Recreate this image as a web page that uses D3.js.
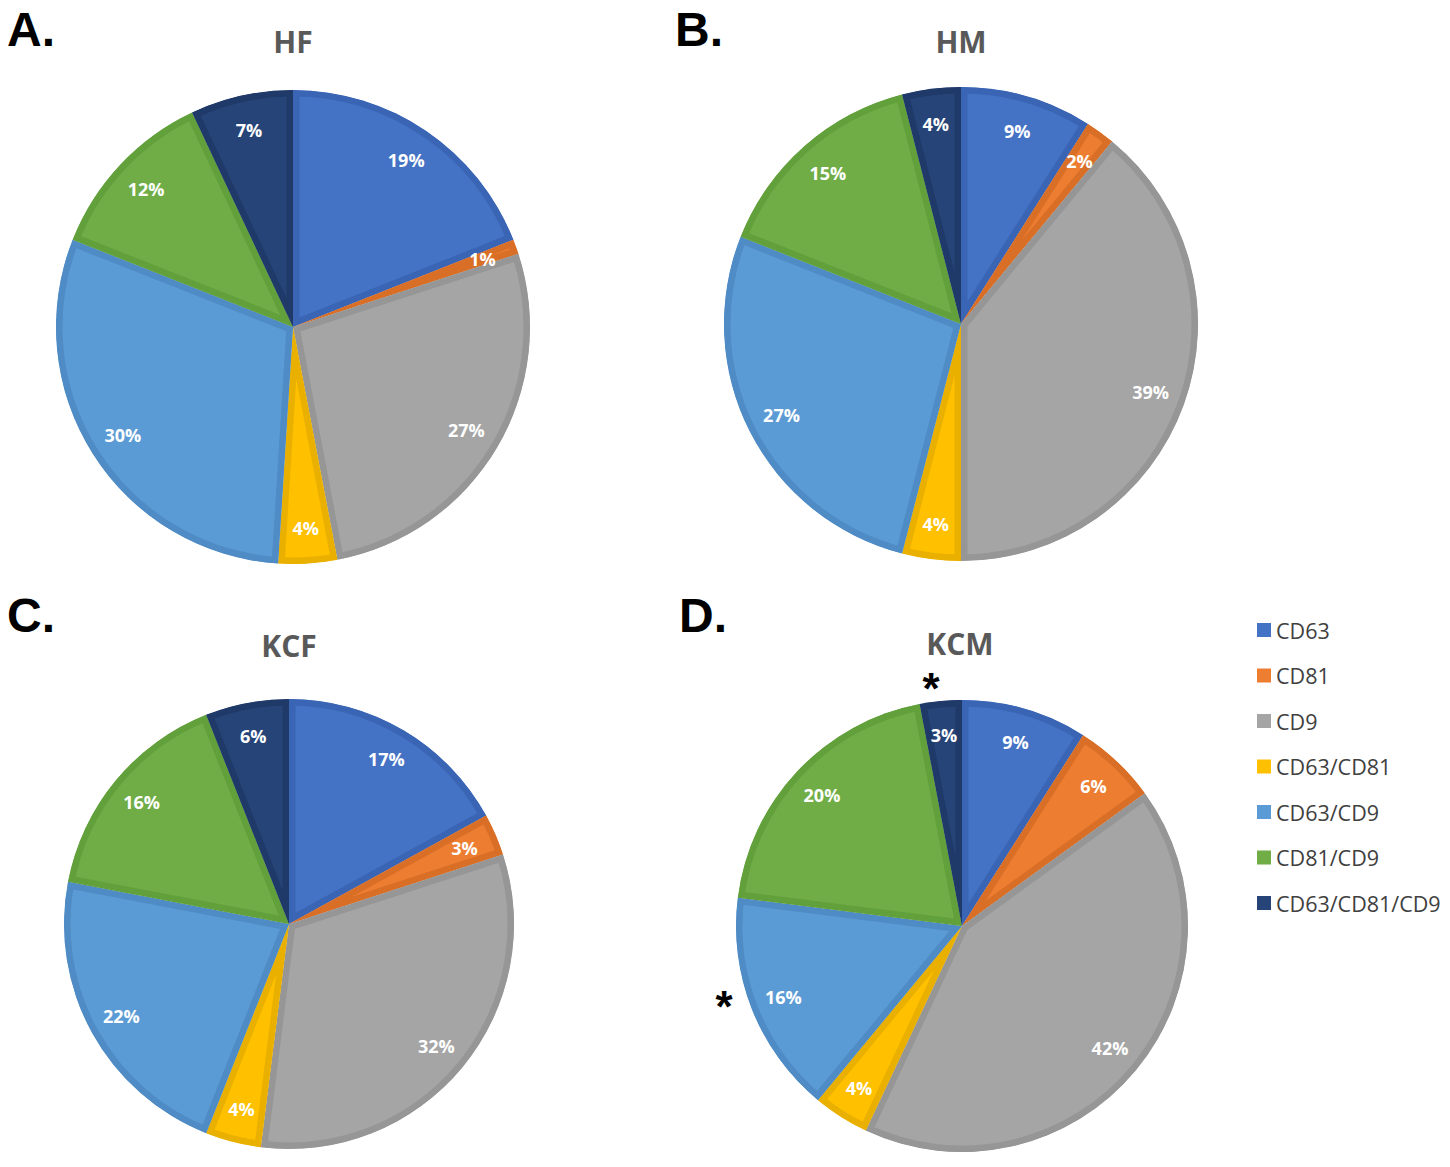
<!DOCTYPE html>
<html><head><meta charset="utf-8">
<script src="https://cdn.jsdelivr.net/npm/d3@7"></script>
<style>body{margin:0;background:#fff}svg{display:block}</style>
</head><body>
<svg id="c" width="1450" height="1167"></svg>
<script>
const categories = ["CD63","CD81","CD9","CD63/CD81","CD63/CD9","CD81/CD9","CD63/CD81/CD9"];
const hfValues  = [19,1,27,4,30,12,7];
const hmValues  = [9,2,39,4,27,15,4];
const kcfValues = [17,3,32,4,22,16,6];
const kcmValues = [9,6,42,4,16,20,3];
const panelTitles = ["HF","HM","KCF","KCM"];
const panelLetters = ["A.","B.","C.","D."];

const fills   = ["#4472C4","#ED7D31","#A5A5A5","#FFC000","#5B9BD5","#70AD47","#264478"];
const borders = ["#3A65B4","#D96F27","#969696","#EAB000","#4F8BC4","#62A03C","#1F3A69"];

const panels = [
  {values: hfValues,  cx: 293, cy: 327, r: 237, tx: 293, ty: 53,  lx: 7,   ly: 46},
  {values: hmValues,  cx: 961, cy: 324, r: 237, tx: 961, ty: 53,  lx: 675, ly: 46},
  {values: kcfValues, cx: 289, cy: 924, r: 225, tx: 289, ty: 657, lx: 7,   ly: 632},
  {values: kcmValues, cx: 962, cy: 926, r: 226, tx: 960, ty: 655, lx: 679, ly: 632}
];

const svg = d3.select("#c");
const defs = svg.append("defs");
const pie = d3.pie().sort(null).value(d => d);
const color = d3.scaleOrdinal().domain(categories).range(fills);
const border = d3.scaleOrdinal().domain(categories).range(borders);

panels.forEach((p, pi) => {
  const g = svg.append("g").attr("transform", `translate(${p.cx},${p.cy})`);
  const arc = d3.arc().innerRadius(0).outerRadius(p.r);
  const arcs = pie(p.values);
  arcs.forEach((a, i) => {
    defs.append("clipPath").attr("id", `clip${pi}_${i}`)
      .append("path").attr("d", arc(a));
  });
  g.selectAll("path").data(arcs).join("path")
    .attr("d", arc)
    .attr("fill", (d, i) => color(categories[i]))
    .attr("stroke", (d, i) => border(categories[i]))
    .attr("stroke-width", 13)
    .attr("stroke-linejoin", "miter")
    .attr("clip-path", (d, i) => `url(#clip${pi}_${i})`);
  // labels
  const lr = p.r * 0.85;
  g.selectAll("text").data(arcs).join("text")
    .attr("x", d => lr * Math.sin((d.startAngle + d.endAngle) / 2))
    .attr("y", d => -lr * Math.cos((d.startAngle + d.endAngle) / 2))
    .attr("text-anchor", "middle").attr("dominant-baseline", "central")
    .attr("font-family", "Open Sans, sans-serif").attr("font-weight", "bold")
    .attr("font-size", 18).attr("fill", "#ffffff")
    .text(d => d.value + "%");
  // title
  svg.append("text").attr("x", p.tx).attr("y", p.ty).attr("text-anchor", "middle")
    .attr("font-family", "Open Sans, sans-serif").attr("font-weight", "bold")
    .attr("font-size", 30).attr("fill", "#595959").text(panelTitles[pi]);
  // letter
  svg.append("text").attr("x", p.lx).attr("y", p.ly)
    .attr("font-family", "Liberation Sans, Arial, sans-serif").attr("font-weight", "bold")
    .attr("font-size", 48).attr("fill", "#000").text(panelLetters[pi]);
});

// asterisks
const stars = [{x: 931, y: 704}, {x: 724, y: 1022}];
svg.append("g").selectAll("text").data(stars).join("text")
  .attr("x", d => d.x).attr("y", d => d.y).attr("text-anchor", "middle")
  .attr("font-family", "Liberation Sans, Arial, sans-serif").attr("font-weight", "bold")
  .attr("font-size", 44).attr("fill", "#000").text("*");

// legend
const lg = svg.append("g");
const ly = d3.scalePoint().domain(categories).range([630, 903]);
lg.selectAll("rect").data(categories).join("rect")
  .attr("x", 1257).attr("y", d => ly(d) - 7).attr("width", 14).attr("height", 14)
  .attr("fill", d => color(d));
lg.selectAll("text").data(categories).join("text")
  .attr("x", 1276).attr("y", d => ly(d)).attr("dominant-baseline", "central")
  .attr("font-family", "Open Sans, sans-serif").attr("font-size", 21.5).attr("fill", "#404040")
  .text(d => d);
</script>
</body></html>
